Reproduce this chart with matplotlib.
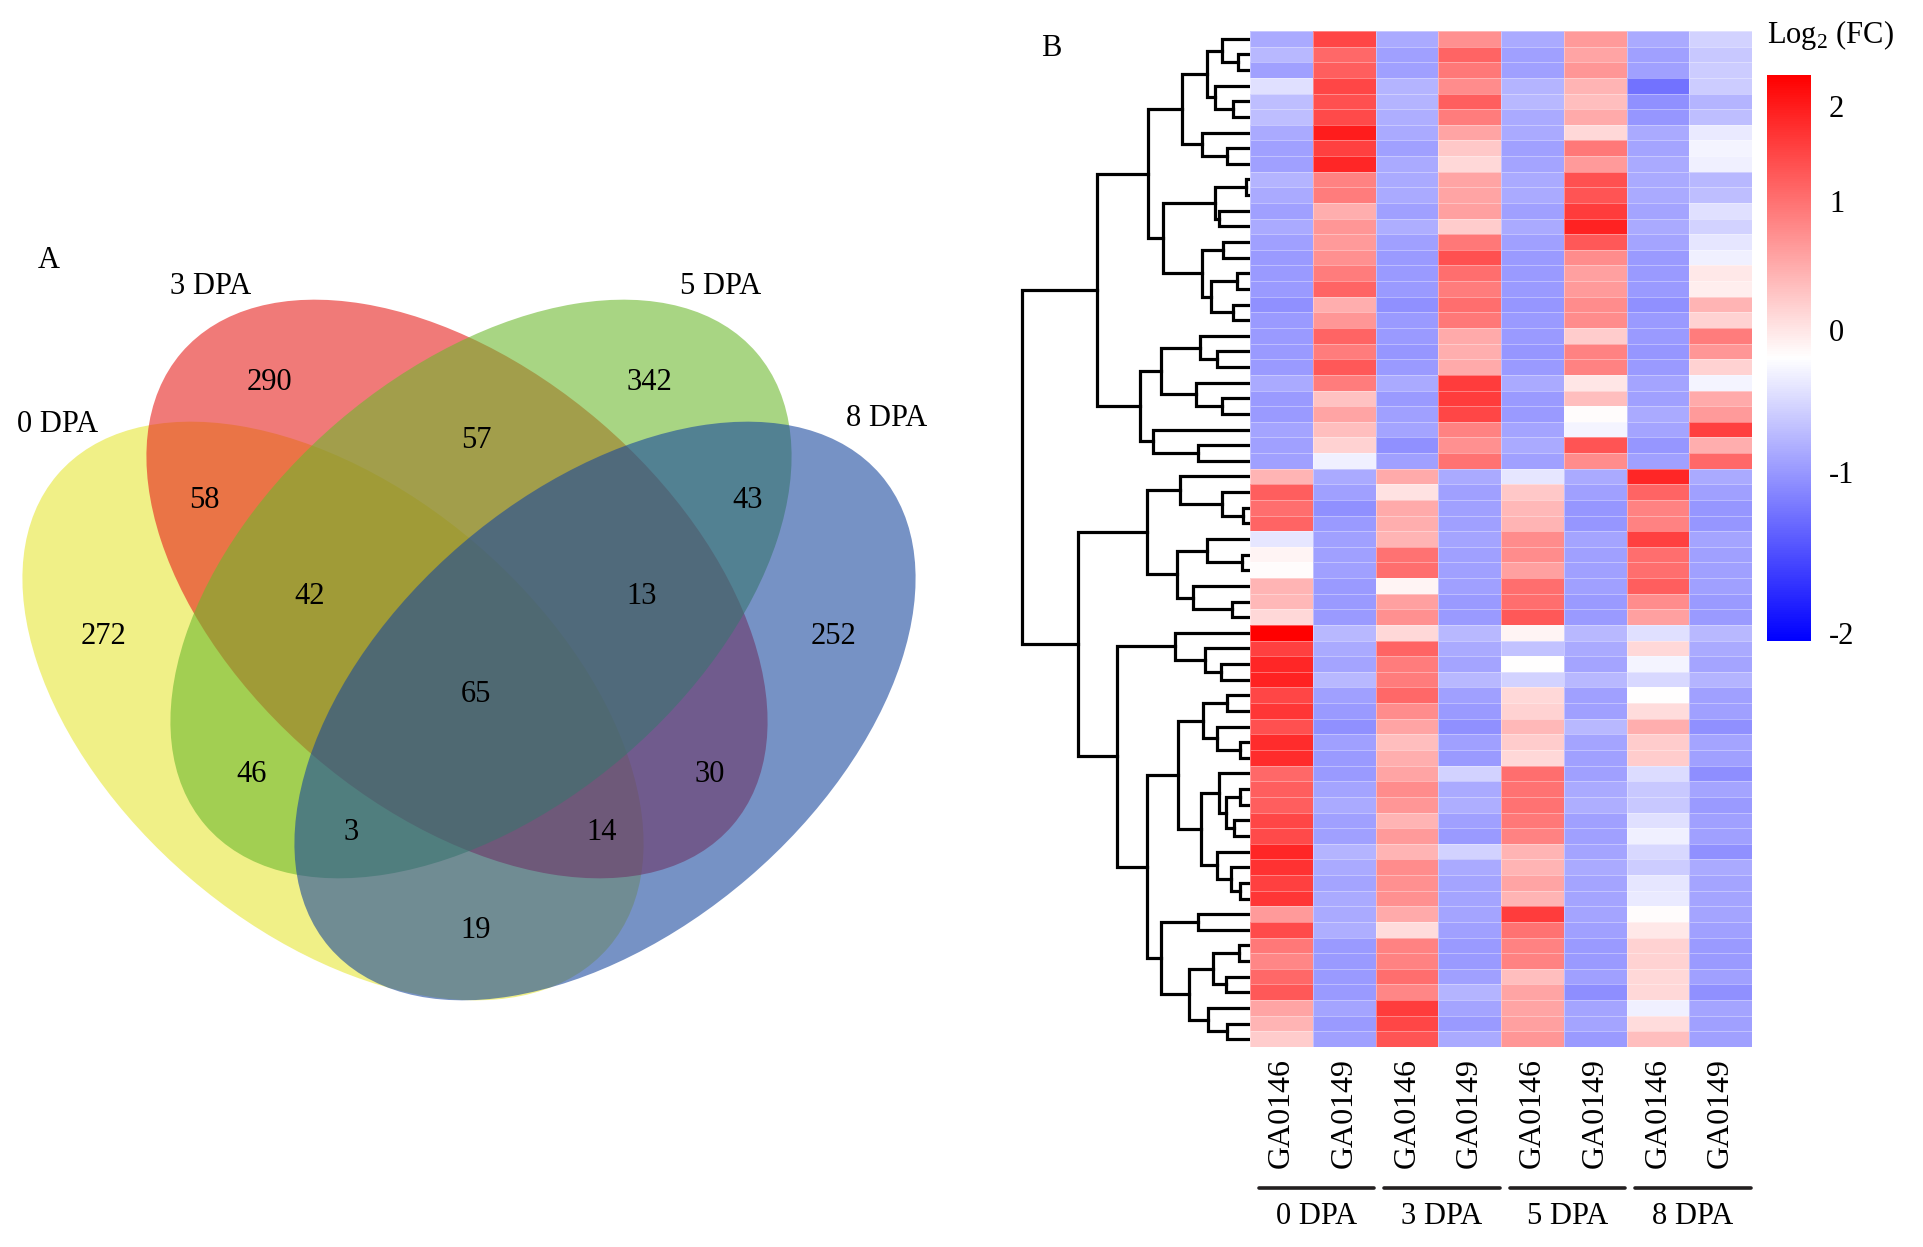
import numpy as np
import matplotlib
matplotlib.use('Agg')
import matplotlib.pyplot as plt
from matplotlib.patches import Ellipse
from matplotlib.transforms import blended_transform_factory

plt.rcParams['font.family'] = ['Liberation Serif', 'DejaVu Serif']
plt.rcParams['mathtext.fontset'] = 'custom'
plt.rcParams['mathtext.rm'] = 'Liberation Serif'

# ---------------- Venn (A) ----------------
venn_sets = ['0 DPA', '3 DPA', '5 DPA', '8 DPA']
venn_colors = ['#E6E634', '#E61E19', '#6CB82D', '#17469D']
venn_regions = ['0', '3', '5', '8', '0&3', '3&5', '5&8', '0&8',
                '0&3&5', '3&5&8', '0&5', '3&8', '0&5&8', '0&3&8', '0&3&5&8']
venn_counts = [272, 290, 342, 252, 58, 57, 43, 19, 42, 13, 46, 30, 3, 14, 65]

# ---------------- heatmap (B) ----------------
samples = ['GA0146', 'GA0149'] * 4
stages = ['0 DPA', '3 DPA', '5 DPA', '8 DPA']
cbar_ticks = [2.0, 1.25, 0.22, -0.91, -2.19]
cbar_labels = ['2', '1', '0', '-1', '-2']

ga0146_0dpa = [-0.75, -0.62, -0.84, -0.27, -0.58, -0.58, -0.75, -0.84, -0.84, -0.66,
               -0.75, -0.84, -0.75, -0.84, -0.88, -0.88, -0.88, -0.97, -0.88, -0.88,
               -0.88, -0.88, -0.75, -0.88, -0.88, -0.80, -0.84, -0.84, 0.66, 1.41,
               1.28, 1.37, -0.22, 0.09, 0.02, 0.66, 0.62, 0.35, 2.25, 1.68,
               1.90, 1.94, 1.63, 1.76, 1.54, 1.85, 1.85, 1.32, 1.41, 1.41,
               1.63, 1.59, 1.90, 1.81, 1.68, 1.76, 0.88, 1.59, 1.19, 1.06,
               1.32, 1.46, 0.80, 0.66, 0.44]
ga0149_0dpa = [1.63, 1.32, 1.41, 1.63, 1.54, 1.59, 1.99, 1.68, 1.90, 1.10,
               1.15, 0.71, 0.93, 0.88, 0.97, 1.15, 1.37, 0.71, 0.93, 1.37,
               1.15, 1.46, 1.15, 0.53, 0.80, 0.57, 0.40, -0.13, -0.75, -0.84,
               -0.97, -0.88, -0.84, -0.84, -0.84, -0.88, -0.88, -0.88, -0.62, -0.75,
               -0.80, -0.62, -0.84, -0.88, -0.97, -0.84, -0.88, -0.88, -0.80, -0.75,
               -0.84, -0.84, -0.66, -0.75, -0.80, -0.75, -0.75, -0.71, -0.88, -0.88,
               -0.88, -0.88, -0.80, -0.88, -0.84]
ga0146_3dpa = [-0.75, -0.84, -0.84, -0.66, -0.66, -0.71, -0.75, -0.84, -0.75, -0.75,
               -0.75, -0.84, -0.71, -0.84, -0.88, -0.88, -0.88, -0.97, -0.88, -0.88,
               -0.93, -0.88, -0.75, -0.88, -0.84, -0.80, -0.97, -0.84, 0.75, 0.26,
               0.75, 0.71, 0.66, 1.24, 1.28, 0.09, 0.84, 0.97, 0.35, 1.37,
               1.15, 1.15, 1.32, 1.01, 0.80, 0.57, 0.71, 0.80, 1.01, 0.93,
               0.66, 0.88, 0.66, 1.01, 0.97, 0.97, 0.75, 0.31, 1.10, 1.10,
               1.28, 1.06, 1.72, 1.63, 1.50]
ga0149_3dpa = [0.97, 1.37, 1.19, 1.01, 1.41, 1.15, 0.80, 0.49, 0.35, 0.80,
               0.80, 0.84, 0.44, 1.19, 1.54, 1.28, 1.15, 1.28, 1.19, 0.75,
               0.71, 0.75, 1.72, 1.72, 1.63, 1.10, 0.97, 1.24, -0.75, -0.84,
               -0.84, -0.84, -0.80, -0.84, -0.84, -0.84, -0.88, -0.88, -0.62, -0.75,
               -0.80, -0.62, -0.84, -0.88, -0.97, -0.84, -0.88, -0.40, -0.75, -0.71,
               -0.84, -0.88, -0.40, -0.75, -0.80, -0.80, -0.80, -0.84, -0.88, -0.88,
               -0.84, -0.66, -0.80, -0.88, -0.75]
ga0146_5dpa = [-0.75, -0.84, -0.84, -0.66, -0.62, -0.75, -0.75, -0.84, -0.80, -0.75,
               -0.75, -0.84, -0.75, -0.84, -0.88, -0.88, -0.88, -0.93, -0.88, -0.88,
               -0.93, -0.88, -0.75, -0.88, -0.88, -0.80, -0.75, -0.84, -0.22, 0.49,
               0.62, 0.66, 1.01, 1.01, 0.84, 1.28, 1.28, 1.46, 0.09, -0.53,
               0.00, -0.40, 0.35, 0.40, 0.62, 0.44, 0.35, 1.28, 1.24, 1.24,
               1.19, 1.10, 0.66, 0.66, 0.80, 0.66, 1.72, 1.24, 1.10, 1.10,
               0.57, 0.80, 0.80, 0.84, 0.93]
ga0149_5dpa = [0.88, 0.80, 0.93, 0.66, 0.57, 0.75, 0.35, 1.19, 0.88, 1.54,
               1.50, 1.72, 1.94, 1.46, 1.01, 0.84, 0.88, 1.01, 1.01, 0.44,
               1.10, 1.10, 0.22, 0.57, 0.02, -0.09, 1.50, 1.01, -0.75, -0.84,
               -0.93, -0.93, -0.80, -0.84, -0.84, -0.84, -0.88, -0.88, -0.62, -0.75,
               -0.80, -0.62, -0.84, -0.84, -0.62, -0.80, -0.84, -0.84, -0.75, -0.71,
               -0.84, -0.84, -0.80, -0.75, -0.80, -0.80, -0.80, -0.84, -0.88, -0.88,
               -0.84, -1.00, -0.80, -0.80, -0.88]
ga0146_8dpa = [-0.75, -0.84, -0.84, -1.24, -0.97, -0.93, -0.75, -0.80, -0.75, -0.75,
               -0.75, -0.80, -0.75, -0.80, -0.88, -0.88, -0.88, -0.97, -0.88, -0.88,
               -0.93, -0.88, -0.80, -0.84, -0.75, -0.80, -0.93, -0.84, 1.90, 1.37,
               1.10, 1.10, 1.68, 1.28, 1.28, 1.41, 1.01, 0.84, -0.27, 0.35,
               -0.09, -0.35, 0.00, 0.31, 0.71, 0.44, 0.44, -0.31, -0.49, -0.49,
               -0.27, -0.13, -0.35, -0.44, -0.22, -0.18, 0.02, 0.20, 0.40, 0.40,
               0.35, 0.35, -0.13, 0.31, 0.57]
ga0149_8dpa = [-0.40, -0.49, -0.44, -0.44, -0.66, -0.58, -0.18, -0.09, -0.13, -0.62,
               -0.58, -0.27, -0.40, -0.22, -0.13, 0.20, 0.15, 0.66, 0.40, 1.15,
               0.93, 0.40, -0.09, 0.75, 0.88, 1.68, 0.71, 1.32, -0.75, -0.84,
               -0.93, -0.93, -0.80, -0.84, -0.84, -0.84, -0.88, -0.88, -0.62, -0.75,
               -0.80, -0.66, -0.84, -0.84, -0.97, -0.80, -0.84, -1.00, -0.80, -0.88,
               -0.84, -0.84, -0.97, -0.75, -0.80, -0.80, -0.80, -0.84, -0.88, -0.88,
               -0.84, -0.97, -0.80, -0.84, -0.84]

# row dendrogram: (left, right, merge height); leaves are 1-based row numbers
top_tree = (
    ((((1, (2, 3, 11.7), 28.3), (4, (5, 6, 17.3), 35.0), 43.3),
      (7, (8, 9, 23.3), 48.3), 67.7),
     (((10, 11, 4.0), (12, 13, 30.7), 35.0),
      ((14, 15, 26.7), ((16, 17, 13.3), (18, 19, 16.7), 39.0), 47.7), 87.3),
     102.3),
    (((20, (21, 22, 33.3), 50.0), (23, (24, 25, 28.3), 54.0), 89.0),
     (26, (27, 28, 51.7), 96.7), 110.0),
    152.7)
bottom_tree = (
    ((29, (30, (31, 32, 6.7), 28.3), 70.0),
     ((33, (34, 35, 8.3), 43.3), (36, (37, 38, 18.3), 56.7), 73.3), 103.3),
    ((39, (40, (41, 42, 29.3), 45.0), 75.0),
     ((((43, 44, 23.3), (45, (46, 47, 10.0), 32.7), 47.3),
       ((48, ((49, 50, 10.0), (51, 52, 16.0), 24.0), 31.0),
        (53, (54, (55, 56, 10.0), 19.0), 32.7), 49.0), 71.7),
      ((57, 58, 52.3),
       (((59, 60, 10.7), (61, 62, 24.3), 36.7), (63, (64, 65, 23.3), 42.3), 61.0),
       89.3), 103.3),
     132.7),
    172.3)
root_height = 227.7

W, H = 1923, 1247
fig = plt.figure(figsize=(W / 100, H / 100), dpi=100)

# full-figure pixel overlay for the Venn and free text
over = fig.add_axes([0, 0, 1, 1])
over.set_xlim(0, W)
over.set_ylim(H, 0)
over.axis('off')

# Venn ellipses (pixel coords)
ell_xy = [(333, 711), (457, 589), (481, 589), (605, 711)]
ell_ang = [40.6, 40.6, -40.6, -40.6]
for (cx, cy), ang, col in zip(ell_xy, ell_ang, venn_colors):
    over.add_patch(Ellipse((cx, cy), 726, 440, angle=ang, facecolor=col,
                           edgecolor='none', alpha=0.59))

count_pos = [(104, 637), (269, 383), (649, 383), (833, 637), (204, 500), (476, 441),
             (748, 500), (476, 930), (310, 597), (642, 597), (252, 774), (710, 774),
             (351, 832), (602, 832), (476, 695)]
for (x, y), n in zip(count_pos, venn_counts):
    over.text(x, y, str(n), ha='center', va='center', fontsize=22)

set_pos = [(58, 424), (211, 287), (721, 287), (887, 418)]
for (x, y), s in zip(set_pos, venn_sets):
    over.text(x, y, s, ha='center', va='center', fontsize=22)

over.text(49, 261, 'A', ha='center', va='center', fontsize=22)
over.text(1051, 49, 'B', ha='center', va='center', fontsize=22)

# heatmap
data = np.column_stack([ga0146_0dpa, ga0149_0dpa, ga0146_3dpa, ga0149_3dpa,
                        ga0146_5dpa, ga0149_5dpa, ga0146_8dpa, ga0149_8dpa])
nrow, ncol = data.shape

hx0, hx1, hy0, hy1 = 1250, 1752, 31, 1047
ax = fig.add_axes([hx0 / W, 1 - hy1 / H, (hx1 - hx0) / W, (hy1 - hy0) / H])
mesh = ax.pcolormesh(np.arange(ncol + 1), np.arange(nrow + 1), data, cmap='bwr',
                     vmin=-2.25, vmax=2.25, edgecolors=(1, 1, 1, 0.35), linewidth=0.6)
ax.set_xlim(0, ncol)
ax.set_ylim(nrow, 0)
ax.set_yticks([])
ax.set_xticks(np.arange(ncol) + 0.5)
ax.set_xticklabels(samples, rotation=90, fontsize=23, va='top', ha='center')
ax.tick_params(axis='x', length=0, pad=8)
for sp in ax.spines.values():
    sp.set_visible(False)

# stage groups under the sample labels
tr = blended_transform_factory(ax.transData, over.transData)
for g, st in enumerate(stages):
    x0, x1 = 2 * g + 0.14, 2 * g + 1.98
    over.plot([x0, x1], [1188, 1188], color='#231F20', lw=2.6, transform=tr,
              solid_capstyle='round', clip_on=False)
    over.text((x0 + x1) / 2, 1216, st, ha='center', va='center', fontsize=22,
              transform=tr, clip_on=False)

# row dendrogram
dax = fig.add_axes([1015 / W, 1 - hy1 / H, 235 / W, (hy1 - hy0) / H])
dax.set_xlim(235, 0)
dax.set_ylim(nrow, 0)
dax.axis('off')


def draw_node(node):
    if isinstance(node, int):
        return node - 0.5, 0.0
    left, right, h = node
    yl, hl = draw_node(left)
    yr, hr = draw_node(right)
    dax.plot([hl, h, h, hr], [yl, yl, yr, yr], color='black', lw=2.3,
             solid_joinstyle='miter')
    return (yl + yr) / 2, h


draw_node((top_tree, bottom_tree, root_height))

# colour key
cax = fig.add_axes([1767 / W, 1 - 641 / H, 44 / W, 566 / H])
cb = fig.colorbar(mesh, cax=cax, ticks=cbar_ticks)
cb.set_ticklabels(cbar_labels)
cb.outline.set_visible(False)
cax.tick_params(length=0, pad=13, labelsize=22)
over.text(1767, 35, r'Log$_\mathregular{2}$ (FC)', ha='left', va='center', fontsize=22)

fig.savefig('out.png', dpi=100)
